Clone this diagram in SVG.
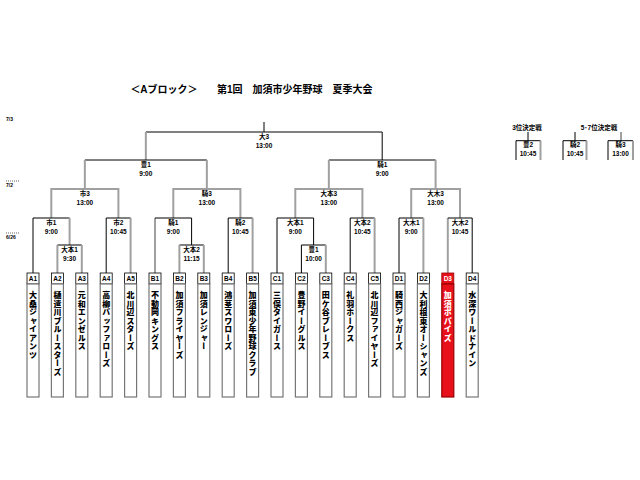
<svg xmlns="http://www.w3.org/2000/svg" width="640" height="480" viewBox="0 0 640 480">
<style>
text{font-family:"Liberation Sans","Noto Sans CJK JP",sans-serif;font-weight:bold;fill:#000}
.t{font-size:10px}
.m{font-size:6.5px;text-anchor:middle}
.d{font-size:5px}
.lb{fill:#fff;stroke:#000;stroke-width:0.8}
.nb{fill:#fff;stroke:#777;stroke-width:1.2}
.red{fill:#e8101a;stroke:#900}
.w{fill:#fff}
.nm{font-family:"Noto Sans CJK JP",sans-serif;font-size:8px;font-weight:900;writing-mode:vertical-rl;letter-spacing:0.5px}
.k{stroke:#000;stroke-width:1;fill:none}
.g{stroke:#a0a0a0;stroke-width:2;fill:none}
.dot{stroke:#000;stroke-width:0.6;stroke-dasharray:1 1}
</style>
<rect width="640" height="480" fill="#fff"/>
<g id="title">
<text class="t" x="164" y="93" text-anchor="middle">＜Aブロック＞</text>
<text class="t" x="217" y="93">第1回　加須市少年野球　夏季大会</text>
</g>
<g id="dates">
<text class="d" x="6" y="121">7/3</text>
<line class="dot" x1="6" y1="181" x2="20" y2="181"/>
<text class="d" x="6" y="187">7/2</text>
<line class="dot" x1="6" y1="233" x2="20" y2="233"/>
<text class="d" x="6" y="239">6/26</text>
</g>
<g id="connectors">
<path class="k" d="M264 122V132"/>
<path class="k" d="M145.85 132H382.2"/>
<path class="g" d="M145.85 132V160"/>
<path class="k" d="M382.2 132V160"/>
<path class="k" d="M84.85 160H206.85"/>
<path class="g" d="M84.85 160V189M206.85 160V189"/>
<path class="k" d="M328.85 160H435.6"/>
<path class="g" d="M328.85 160V189M435.6 160V189"/>
<path class="g" d="M51.3 218V189H118.4V218"/>
<path class="g" d="M173.3 218V189H240.4V218"/>
<path class="g" d="M295.3 218V189H362.4V218"/>
<path class="g" d="M411.2 218V189H460V218"/>
<path class="k" d="M33 273V218H69.6"/><path class="g" d="M69.6 218V245"/>
<path class="k" d="M106.2 273V218H130.6"/><path class="g" d="M130.6 218V273"/>
<path class="g" d="M155 273V218"/><path class="k" d="M155 218H191.6V245"/>
<path class="k" d="M228.2 273V218H252.6"/><path class="g" d="M252.6 218V273"/>
<path class="k" d="M277 273V218H313.6V245"/>
<path class="k" d="M350.2 273V218H374.6"/><path class="g" d="M374.6 218V273"/>
<path class="k" d="M399 273V218H423.4"/><path class="g" d="M423.4 218V273"/>
<path class="g" d="M447.8 273V218"/><path class="k" d="M447.8 218H472.2V273"/>
<path class="k" d="M57.4 245H81.8"/><path class="g" d="M57.4 245V273M81.8 245V273"/>
<path class="k" d="M179.4 245H203.8"/><path class="g" d="M179.4 245V273M203.8 245V273"/>
<path class="k" d="M301.4 273V245H325.8"/><path class="g" d="M325.8 245V273"/>
<path class="k" d="M528 132V140.7M516 160V140.7H540.5"/><path class="g" d="M540.5 140.7V160"/>
<path class="k" d="M575 132V140.7M563 160V140.7H586.5"/><path class="g" d="M586.5 140.7V160"/>
<path class="g" d="M621 132V140.7"/><path class="k" d="M608 160V140.7H633"/><path class="g" d="M633 140.7V160"/>
</g>
<g id="m-final"><text class="m" x="264" y="139">大3</text><text class="m" x="264" y="148">13:00</text></g>
<g id="m-semi1"><text class="m" x="145.85" y="167">豊1</text><text class="m" x="145.85" y="176">9:00</text></g>
<g id="m-semi2"><text class="m" x="382.2" y="167">騎1</text><text class="m" x="382.2" y="176">9:00</text></g>
<g id="m-qa"><text class="m" x="84.85" y="196">市3</text><text class="m" x="84.85" y="205">13:00</text></g>
<g id="m-qb"><text class="m" x="206.85" y="196">騎3</text><text class="m" x="206.85" y="205">13:00</text></g>
<g id="m-qc"><text class="m" x="328.85" y="196">大本3</text><text class="m" x="328.85" y="205">13:00</text></g>
<g id="m-qd"><text class="m" x="435.6" y="196">大木3</text><text class="m" x="435.6" y="205">13:00</text></g>
<g id="m-a1"><text class="m" x="51.3" y="225">市1</text><text class="m" x="51.3" y="234">9:00</text></g>
<g id="m-a2"><text class="m" x="118.4" y="225">市2</text><text class="m" x="118.4" y="234">10:45</text></g>
<g id="m-b1"><text class="m" x="173.3" y="225">騎1</text><text class="m" x="173.3" y="234">9:00</text></g>
<g id="m-b2"><text class="m" x="240.4" y="225">騎2</text><text class="m" x="240.4" y="234">10:45</text></g>
<g id="m-c1"><text class="m" x="295.3" y="225">大本1</text><text class="m" x="295.3" y="234">9:00</text></g>
<g id="m-c2"><text class="m" x="362.4" y="225">大本2</text><text class="m" x="362.4" y="234">10:45</text></g>
<g id="m-d1"><text class="m" x="411.2" y="225">大木1</text><text class="m" x="411.2" y="234">9:00</text></g>
<g id="m-d2"><text class="m" x="460" y="225">大木2</text><text class="m" x="460" y="234">10:45</text></g>
<g id="m-a0"><text class="m" x="69.6" y="252">大本1</text><text class="m" x="69.6" y="261">9:30</text></g>
<g id="m-b0"><text class="m" x="191.6" y="252">大本2</text><text class="m" x="191.6" y="261">11:15</text></g>
<g id="m-c0"><text class="m" x="313.6" y="252">豊1</text><text class="m" x="313.6" y="261">10:00</text></g>
<g id="p3"><text class="m" x="527" y="130">3位決定戦</text><text class="m" x="528" y="147">豊2</text><text class="m" x="528" y="155.5">10:45</text></g>
<g id="p57"><text class="m" x="599" y="130">5･7位決定戦</text><text class="m" x="575" y="147">騎2</text><text class="m" x="575" y="155.5">10:45</text><text class="m" x="620.5" y="147">騎3</text><text class="m" x="620.5" y="155.5">13:00</text></g>
<g id="A1"><rect class="lb" x="27" y="273" width="12" height="11"/><rect class="nb" x="27" y="284" width="12" height="113"/><text class="m" x="33" y="281">A1</text><text class="nm" x="33" y="291">大桑ジャイアンツ</text></g>
<g id="A2"><rect class="lb" x="51.4" y="273" width="12" height="11"/><rect class="nb" x="51.4" y="284" width="12" height="113"/><text class="m" x="57.4" y="281">A2</text><text class="nm" x="57.4" y="291">樋遣川ブルースターズ</text></g>
<g id="A3"><rect class="lb" x="75.8" y="273" width="12" height="11"/><rect class="nb" x="75.8" y="284" width="12" height="113"/><text class="m" x="81.8" y="281">A3</text><text class="nm" x="81.8" y="291">元和エンゼルス</text></g>
<g id="A4"><rect class="lb" x="100.2" y="273" width="12" height="11"/><rect class="nb" x="100.2" y="284" width="12" height="113"/><text class="m" x="106.2" y="281">A4</text><text class="nm" x="106.2" y="291">高柳バッファローズ</text></g>
<g id="A5"><rect class="lb" x="124.6" y="273" width="12" height="11"/><rect class="nb" x="124.6" y="284" width="12" height="113"/><text class="m" x="130.6" y="281">A5</text><text class="nm" x="130.6" y="291">北川辺スターズ</text></g>
<g id="B1"><rect class="lb" x="149" y="273" width="12" height="11"/><rect class="nb" x="149" y="284" width="12" height="113"/><text class="m" x="155" y="281">B1</text><text class="nm" x="155" y="291">不動岡キングス</text></g>
<g id="B2"><rect class="lb" x="173.4" y="273" width="12" height="11"/><rect class="nb" x="173.4" y="284" width="12" height="113"/><text class="m" x="179.4" y="281">B2</text><text class="nm" x="179.4" y="291">加須フライヤーズ</text></g>
<g id="B3"><rect class="lb" x="197.8" y="273" width="12" height="11"/><rect class="nb" x="197.8" y="284" width="12" height="113"/><text class="m" x="203.8" y="281">B3</text><text class="nm" x="203.8" y="291">加須レンジャー</text></g>
<g id="B4"><rect class="lb" x="222.2" y="273" width="12" height="11"/><rect class="nb" x="222.2" y="284" width="12" height="113"/><text class="m" x="228.2" y="281">B4</text><text class="nm" x="228.2" y="291">鴻茎スワローズ</text></g>
<g id="B5"><rect class="lb" x="246.6" y="273" width="12" height="11"/><rect class="nb" x="246.6" y="284" width="12" height="113"/><text class="m" x="252.6" y="281">B5</text><text class="nm" x="252.6" y="291">加須東少年野球クラブ</text></g>
<g id="C1"><rect class="lb" x="271" y="273" width="12" height="11"/><rect class="nb" x="271" y="284" width="12" height="113"/><text class="m" x="277" y="281">C1</text><text class="nm" x="277" y="291">三俣タイガース</text></g>
<g id="C2"><rect class="lb" x="295.4" y="273" width="12" height="11"/><rect class="nb" x="295.4" y="284" width="12" height="113"/><text class="m" x="301.4" y="281">C2</text><text class="nm" x="301.4" y="291">豊野イーグルス</text></g>
<g id="C3"><rect class="lb" x="319.8" y="273" width="12" height="11"/><rect class="nb" x="319.8" y="284" width="12" height="113"/><text class="m" x="325.8" y="281">C3</text><text class="nm" x="325.8" y="291">田ケ谷ブレーブス</text></g>
<g id="C4"><rect class="lb" x="344.2" y="273" width="12" height="11"/><rect class="nb" x="344.2" y="284" width="12" height="113"/><text class="m" x="350.2" y="281">C4</text><text class="nm" x="350.2" y="291">礼羽ホークス</text></g>
<g id="C5"><rect class="lb" x="368.6" y="273" width="12" height="11"/><rect class="nb" x="368.6" y="284" width="12" height="113"/><text class="m" x="374.6" y="281">C5</text><text class="nm" x="374.6" y="291">北川辺ファイヤーズ</text></g>
<g id="D1"><rect class="lb" x="393" y="273" width="12" height="11"/><rect class="nb" x="393" y="284" width="12" height="113"/><text class="m" x="399" y="281">D1</text><text class="nm" x="399" y="291">騎西ジャガーズ</text></g>
<g id="D2"><rect class="lb" x="417.4" y="273" width="12" height="11"/><rect class="nb" x="417.4" y="284" width="12" height="113"/><text class="m" x="423.4" y="281">D2</text><text class="nm" x="423.4" y="291">大利根東オーシャンズ</text></g>
<g id="D3"><rect class="lb red" x="441.8" y="273" width="12" height="11"/><rect class="nb red" x="441.8" y="284" width="12" height="113"/><text class="m w" x="447.8" y="281">D3</text><text class="nm w" x="447.8" y="291">加須ポパイズ</text></g>
<g id="D4"><rect class="lb" x="466.2" y="273" width="12" height="11"/><rect class="nb" x="466.2" y="284" width="12" height="113"/><text class="m" x="472.2" y="281">D4</text><text class="nm" x="472.2" y="291">水深ワールドナイン</text></g>
</svg>
